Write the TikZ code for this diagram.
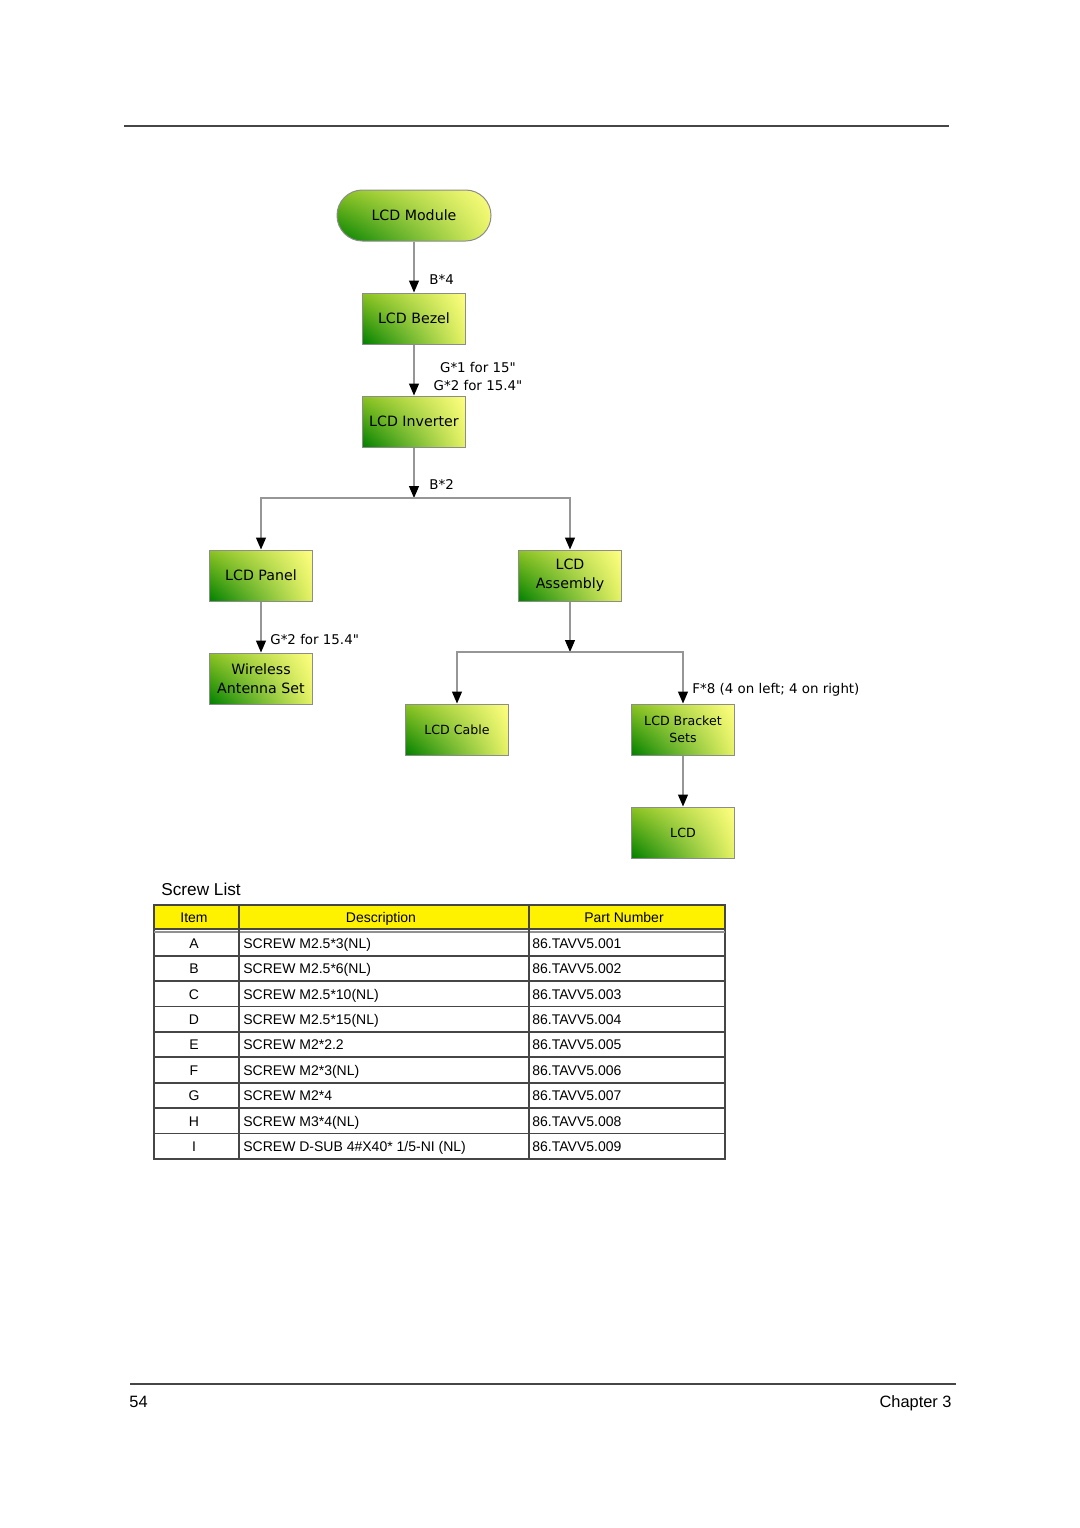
\documentclass[tikz,border=0pt]{standalone}
\usepackage{fontspec}
\setmainfont{Liberation Sans}
\newfontfamily\nodefont{DejaVu Sans}
\usetikzlibrary{arrows.meta,shadings}
\definecolor{gdark}{RGB}{0,128,0}
\definecolor{gul}{RGB}{140,195,35}
\definecolor{gyel}{RGB}{255,255,128}
\definecolor{glr}{RGB}{230,242,100}
\definecolor{boxgray}{RGB}{140,140,140}
\definecolor{linegray}{RGB}{150,150,150}
\definecolor{rulegray}{RGB}{70,70,70}
\newcommand{\screwrow}[4]{%
  \node[cellc] (item#1) at (194,#2) {#1};
  \node[celll] (desc#1) at (243,#2) {#3};
  \node[celll] (part#1) at (532,#2) {#4};}
\begin{document}
\begin{tikzpicture}[x=0.5pt,y=-0.5pt,
  box/.style={draw=boxgray, line width=0.5pt, minimum width=51.5pt, minimum height=25.5pt,
    inner sep=1pt, align=center, font=\nodefont\fontsize{7.1}{9.6}\selectfont,
    lower left=gdark, upper left=gul, upper right=gyel, lower right=glr},
  smallbox/.style={box, font=\nodefont\fontsize{6.3}{8.5}\selectfont},
  conn/.style={draw=linegray, line width=0.6pt, -{Triangle[length=6pt,width=5pt,color=black]}},
  lbl/.style={font=\nodefont\fontsize{6.7}{9}\selectfont, inner sep=0pt, text height=0.73em, text depth=0pt},
  cellc/.style={font=\fontsize{7}{8}\selectfont, inner sep=0pt, text height=0.72em, text depth=0pt},
  celll/.style={cellc, anchor=west},
  tline/.style={draw=rulegray, line width=0.6pt}
]
\useasboundingbox (0,0) rectangle (1080,1528);
\fill[white] (0,0) rectangle (1080,1528);

% page rules and footer
\draw[rulegray, line width=1pt] (124,126) -- (949,126);
\draw[rulegray, line width=0.6pt] (130,1384) -- (956,1384);
\node[font=\fontsize{8.2}{10}\selectfont, anchor=west, inner sep=0pt, text height=0.72em, text depth=0pt] (pagenum) at (129,1400) {54};
\node[font=\fontsize{8.2}{10}\selectfont, anchor=east, inner sep=0pt, text height=0.72em, text depth=0pt] (chapter) at (952,1400) {Chapter 3};

% flowchart nodes
\node[box, rounded corners=12.7pt, minimum width=77pt] (module) at (414,215.5) {LCD Module};
\node[box] (bezel) at (414,318.5) {LCD Bezel};
\node[box] (inverter) at (414,421.5) {LCD Inverter};
\node[box] (panel) at (261,575.5) {LCD Panel};
\node[box] (assembly) at (570,575.5) {LCD\\Assembly};
\node[box] (wireless) at (261,678.5) {Wireless\\Antenna Set};
\node[smallbox] (cable) at (457,729.5) {LCD Cable};
\node[smallbox] (bracket) at (683,729.5) {LCD Bracket\\Sets};
\node[smallbox] (lcd) at (683,832.5) {LCD};

\coordinate (j1) at (414,498);
\coordinate (j2) at (570,652);

% connectors
\draw[conn] (module.south) -- (bezel.north);
\draw[conn] (bezel.south) -- (inverter.north);
\draw[conn] (inverter.south) -- (j1);
\draw[conn] (j1) -| (panel.north);
\draw[conn] (j1) -| (assembly.north);
\draw[conn] (panel.south) -- (wireless.north);
\draw[conn] (assembly.south) -- (j2);
\draw[conn] (j2) -| (cable.north);
\draw[conn] (j2) -| (bracket.north);
\draw[conn] (bracket.south) -- (lcd.north);

% connector labels
\node[lbl, anchor=west] (l1) at (429,277.5) {B*4};
\node[font=\nodefont\fontsize{6.7}{9}\selectfont, inner sep=0pt, align=center] (l2) at (478,376) {G*1 for 15"\\G*2 for 15.4"};
\node[lbl, anchor=west] (l3) at (429,482.5) {B*2};
\node[lbl, anchor=west] (l4) at (270,637.5) {G*2 for 15.4"};
\node[lbl, anchor=west] (l5) at (692,686.5) {F*8 (4 on left; 4 on right)};

% screw list
\node[font=\fontsize{8.6}{10}\selectfont, anchor=west, inner sep=0pt, text height=0.72em, text depth=0pt] (screwtitle) at (161,888) {Screw List};
\fill[yellow] (154,905) rectangle (725,929);
\draw[tline] (154,905) rectangle (725,1159);
\draw[tline] (154,929) -- (725,929);
\draw[tline, draw=rulegray!60] (154,932) -- (725,932);
\draw[tline] (239,905) -- (239,1159);
\draw[tline] (529,905) -- (529,1159);
\foreach \yy in {956,981,1006.5,1032,1057,1083,1108,1133.5}
  \draw[tline] (154,\yy) -- (725,\yy);
\node[cellc] (hitem) at (194,915.5) {Item};
\node[cellc] (hdesc) at (381,915.5) {Description};
\node[cellc] (hpart) at (624,915.5) {Part Number};
\screwrow{A}{941.5}{SCREW M2.5*3(NL)}{86.TAVV5.001}
\screwrow{B}{966.5}{SCREW M2.5*6(NL)}{86.TAVV5.002}
\screwrow{C}{992}{SCREW M2.5*10(NL)}{86.TAVV5.003}
\screwrow{D}{1017.5}{SCREW M2.5*15(NL)}{86.TAVV5.004}
\screwrow{E}{1042.5}{SCREW M2*2.2}{86.TAVV5.005}
\screwrow{F}{1068.5}{SCREW M2*3(NL)}{86.TAVV5.006}
\screwrow{G}{1093.5}{SCREW M2*4}{86.TAVV5.007}
\screwrow{H}{1119}{SCREW M3*4(NL)}{86.TAVV5.008}
\screwrow{I}{1144.5}{SCREW D-SUB 4\#X40* 1/5-NI (NL)}{86.TAVV5.009}
\end{tikzpicture}
\end{document}
